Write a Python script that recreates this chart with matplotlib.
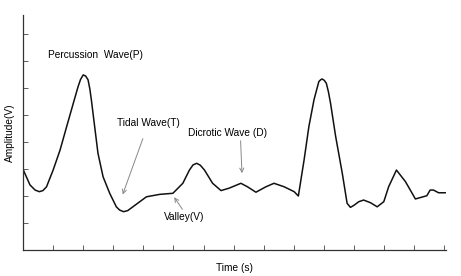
import matplotlib.pyplot as plt

# pulse waveform (time in tick units, amplitude in tick units)
time = [0.01, 0.23, 0.40, 0.54, 0.66, 0.78, 1.00, 1.23, 1.45, 1.67, 1.83, 1.91, 2.00,
        2.08, 2.16, 2.22, 2.27, 2.38, 2.49, 2.66, 2.88, 3.10, 3.21, 3.34, 3.48, 3.65,
        4.10, 4.54, 4.98, 5.31, 5.53, 5.65, 5.77, 5.89, 6.03, 6.30, 6.58, 6.85, 7.24,
        7.46, 7.74, 8.07, 8.34, 8.68, 9.01, 9.15, 9.34, 9.50, 9.67, 9.83, 9.89, 9.94,
        10.01, 10.08, 10.15, 10.22, 10.39, 10.61, 10.77, 10.88, 10.99, 11.16, 11.32,
        11.55, 11.77, 11.99, 12.15, 12.41, 12.71, 12.87, 13.04, 13.42, 13.53, 13.64,
        13.81, 14.03]
amplitude = [2.96, 2.41, 2.22, 2.16, 2.20, 2.34, 2.96, 3.70, 4.57, 5.43, 6.05, 6.31, 6.48,
             6.44, 6.30, 5.96, 5.56, 4.57, 3.58, 2.71, 2.10, 1.60, 1.48, 1.42, 1.46, 1.60,
             1.97, 2.06, 2.10, 2.47, 2.96, 3.15, 3.21, 3.14, 2.96, 2.47, 2.20, 2.29, 2.47,
             2.34, 2.14, 2.34, 2.47, 2.34, 2.16, 2.00, 3.33, 4.57, 5.56, 6.23, 6.30, 6.33,
             6.28, 6.17, 5.85, 5.43, 4.20, 2.84, 1.73, 1.58, 1.65, 1.79, 1.85,
             1.75, 1.60, 1.79, 2.34, 2.96, 2.53, 2.22, 1.89, 2.01, 2.22, 2.22,
             2.12, 2.12]

x_ticks = list(range(1, 15))
y_ticks = list(range(1, 9))

plt.rcParams['font.family'] = ['Liberation Sans', 'DejaVu Sans']

fig = plt.figure(figsize=(4.61, 2.76), dpi=100)
ax = fig.add_axes([0.05, 0.094, 0.917, 0.852])
ax.plot(time, amplitude, color='#111111', lw=1.1, solid_joinstyle='round')

ax.set_xlim(0, 14.05)
ax.set_ylim(0, 8.7)
ax.set_xticks(x_ticks)
ax.set_yticks(y_ticks)
ax.set_xticklabels([])
ax.set_yticklabels([])
ax.tick_params(direction='in', length=3.6, width=0.6, color='#444444')
for side in ['top', 'right']:
    ax.spines[side].set_visible(False)
for side in ['left', 'bottom']:
    ax.spines[side].set_color('#333333')
    ax.spines[side].set_linewidth(0.9)

fs = 7.3
ax.set_xlabel("Time (s)", fontsize=fs, labelpad=6)
ax.set_ylabel("Amplitude(V)", fontsize=fs, labelpad=2)

arrow = dict(arrowstyle='->', color='#888888', lw=0.7)
ax.text(0.83, 7.22, "Percussion  Wave(P)", fontsize=fs, va='center')
ax.annotate("Tidal Wave(T)", xy=(3.28, 1.96), xytext=(4.17, 4.7), fontsize=fs,
            ha='center', va='center', arrowprops=dict(arrow, shrinkA=6))
ax.annotate("Dicrotic Wave (D)", xy=(7.28, 2.74), xytext=(6.78, 4.33), fontsize=fs,
            ha='center', va='center', arrowprops=dict(arrow, shrinkA=0, relpos=(0.67, 0)))
ax.annotate("Valley(V)", xy=(4.97, 2.04), xytext=(5.36, 1.22), fontsize=fs,
            ha='center', va='center', arrowprops=dict(arrow, shrinkA=0, relpos=(0.5, 1)))

plt.savefig("out.png", dpi=100)
